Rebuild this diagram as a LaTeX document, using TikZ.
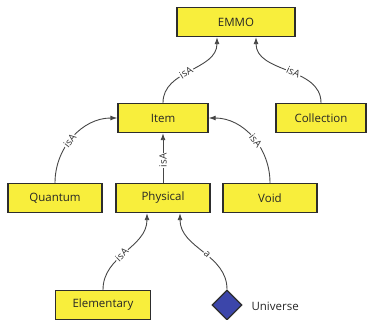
\documentclass[tikz,border=0pt]{standalone}
\usepackage{fontspec}
\setmainfont{Open Sans}
\usetikzlibrary{arrows.meta,shapes.geometric}
\definecolor{boxyellow}{RGB}{248,238,60}
\definecolor{boxedge}{RGB}{45,45,45}
\definecolor{dblue}{RGB}{60,70,170}
\definecolor{edgegray}{RGB}{70,70,70}
\tikzset{
  cls/.style={draw=boxedge, line width=1.4pt, fill=boxyellow, minimum height=29, inner sep=0pt, font=\fontsize{11.5}{13}\selectfont, text=black!85},
  rel/.style={draw=edgegray, line width=0.9pt, -{Latex[length=7pt,width=5pt]}},
  lbl/.style={fill=white, inner sep=1pt, font=\fontsize{10}{11}\selectfont, text=black!80, sloped},
  indiv/.style={diamond, draw=boxedge, line width=1.2pt, fill=dblue, minimum width=30, minimum height=30, inner sep=0pt, aspect=1}
}
\begin{document}
\begin{tikzpicture}[x=1pt,y=-1pt]
\useasboundingbox (0,0) rectangle (367,320);
\node[cls, minimum width=118] (emmo) at (236,22) {EMMO};
\node[cls, minimum width=90] (item) at (163,118) {Item};
\node[cls, minimum width=90] (coll) at (321,118) {Collection};
\node[cls, minimum width=94] (quant) at (55,198) {Quantum};
\node[cls, minimum width=94] (phys) at (163,198) {Physical};
\node[cls, minimum width=94] (void) at (270,198) {Void};
\node[cls, minimum width=95] (elem) at (103,305) {Elementary};
\node[indiv] (univ) at (227,305) {};
\node[anchor=west, font=\fontsize{11.5}{13}\selectfont, text=black!85] (ulbl) at (248,306) {Universe};
\coordinate (e1) at ([xshift=-19]emmo.south);
\coordinate (e2) at ([xshift=20]emmo.south);
\coordinate (p1) at ([xshift=-16]phys.south);
\coordinate (p2) at ([xshift=17]phys.south);
\draw[rel] (item.north) to[out=90,in=-90] node[lbl,pos=0.45] {isA} (e1);
\draw[rel] (coll.north) to[out=90,in=-90] node[lbl,pos=0.45] {isA} (e2);
\draw[rel] (quant.north) to[out=90,in=180] node[lbl,pos=0.45] {isA} (item.west);
\draw[rel] (void.north) to[out=90,in=0] node[lbl,pos=0.45] {isA} (item.east);
\draw[rel] (phys.north) -- node[lbl,pos=0.45] {isA} (item.south);
\draw[rel] (elem.north) to[out=90,in=-90] node[lbl,pos=0.45] {isA} (p1);
\draw[rel] (univ.north) to[out=90,in=-90] node[lbl,pos=0.45] {a} (p2);
\end{tikzpicture}
\end{document}
